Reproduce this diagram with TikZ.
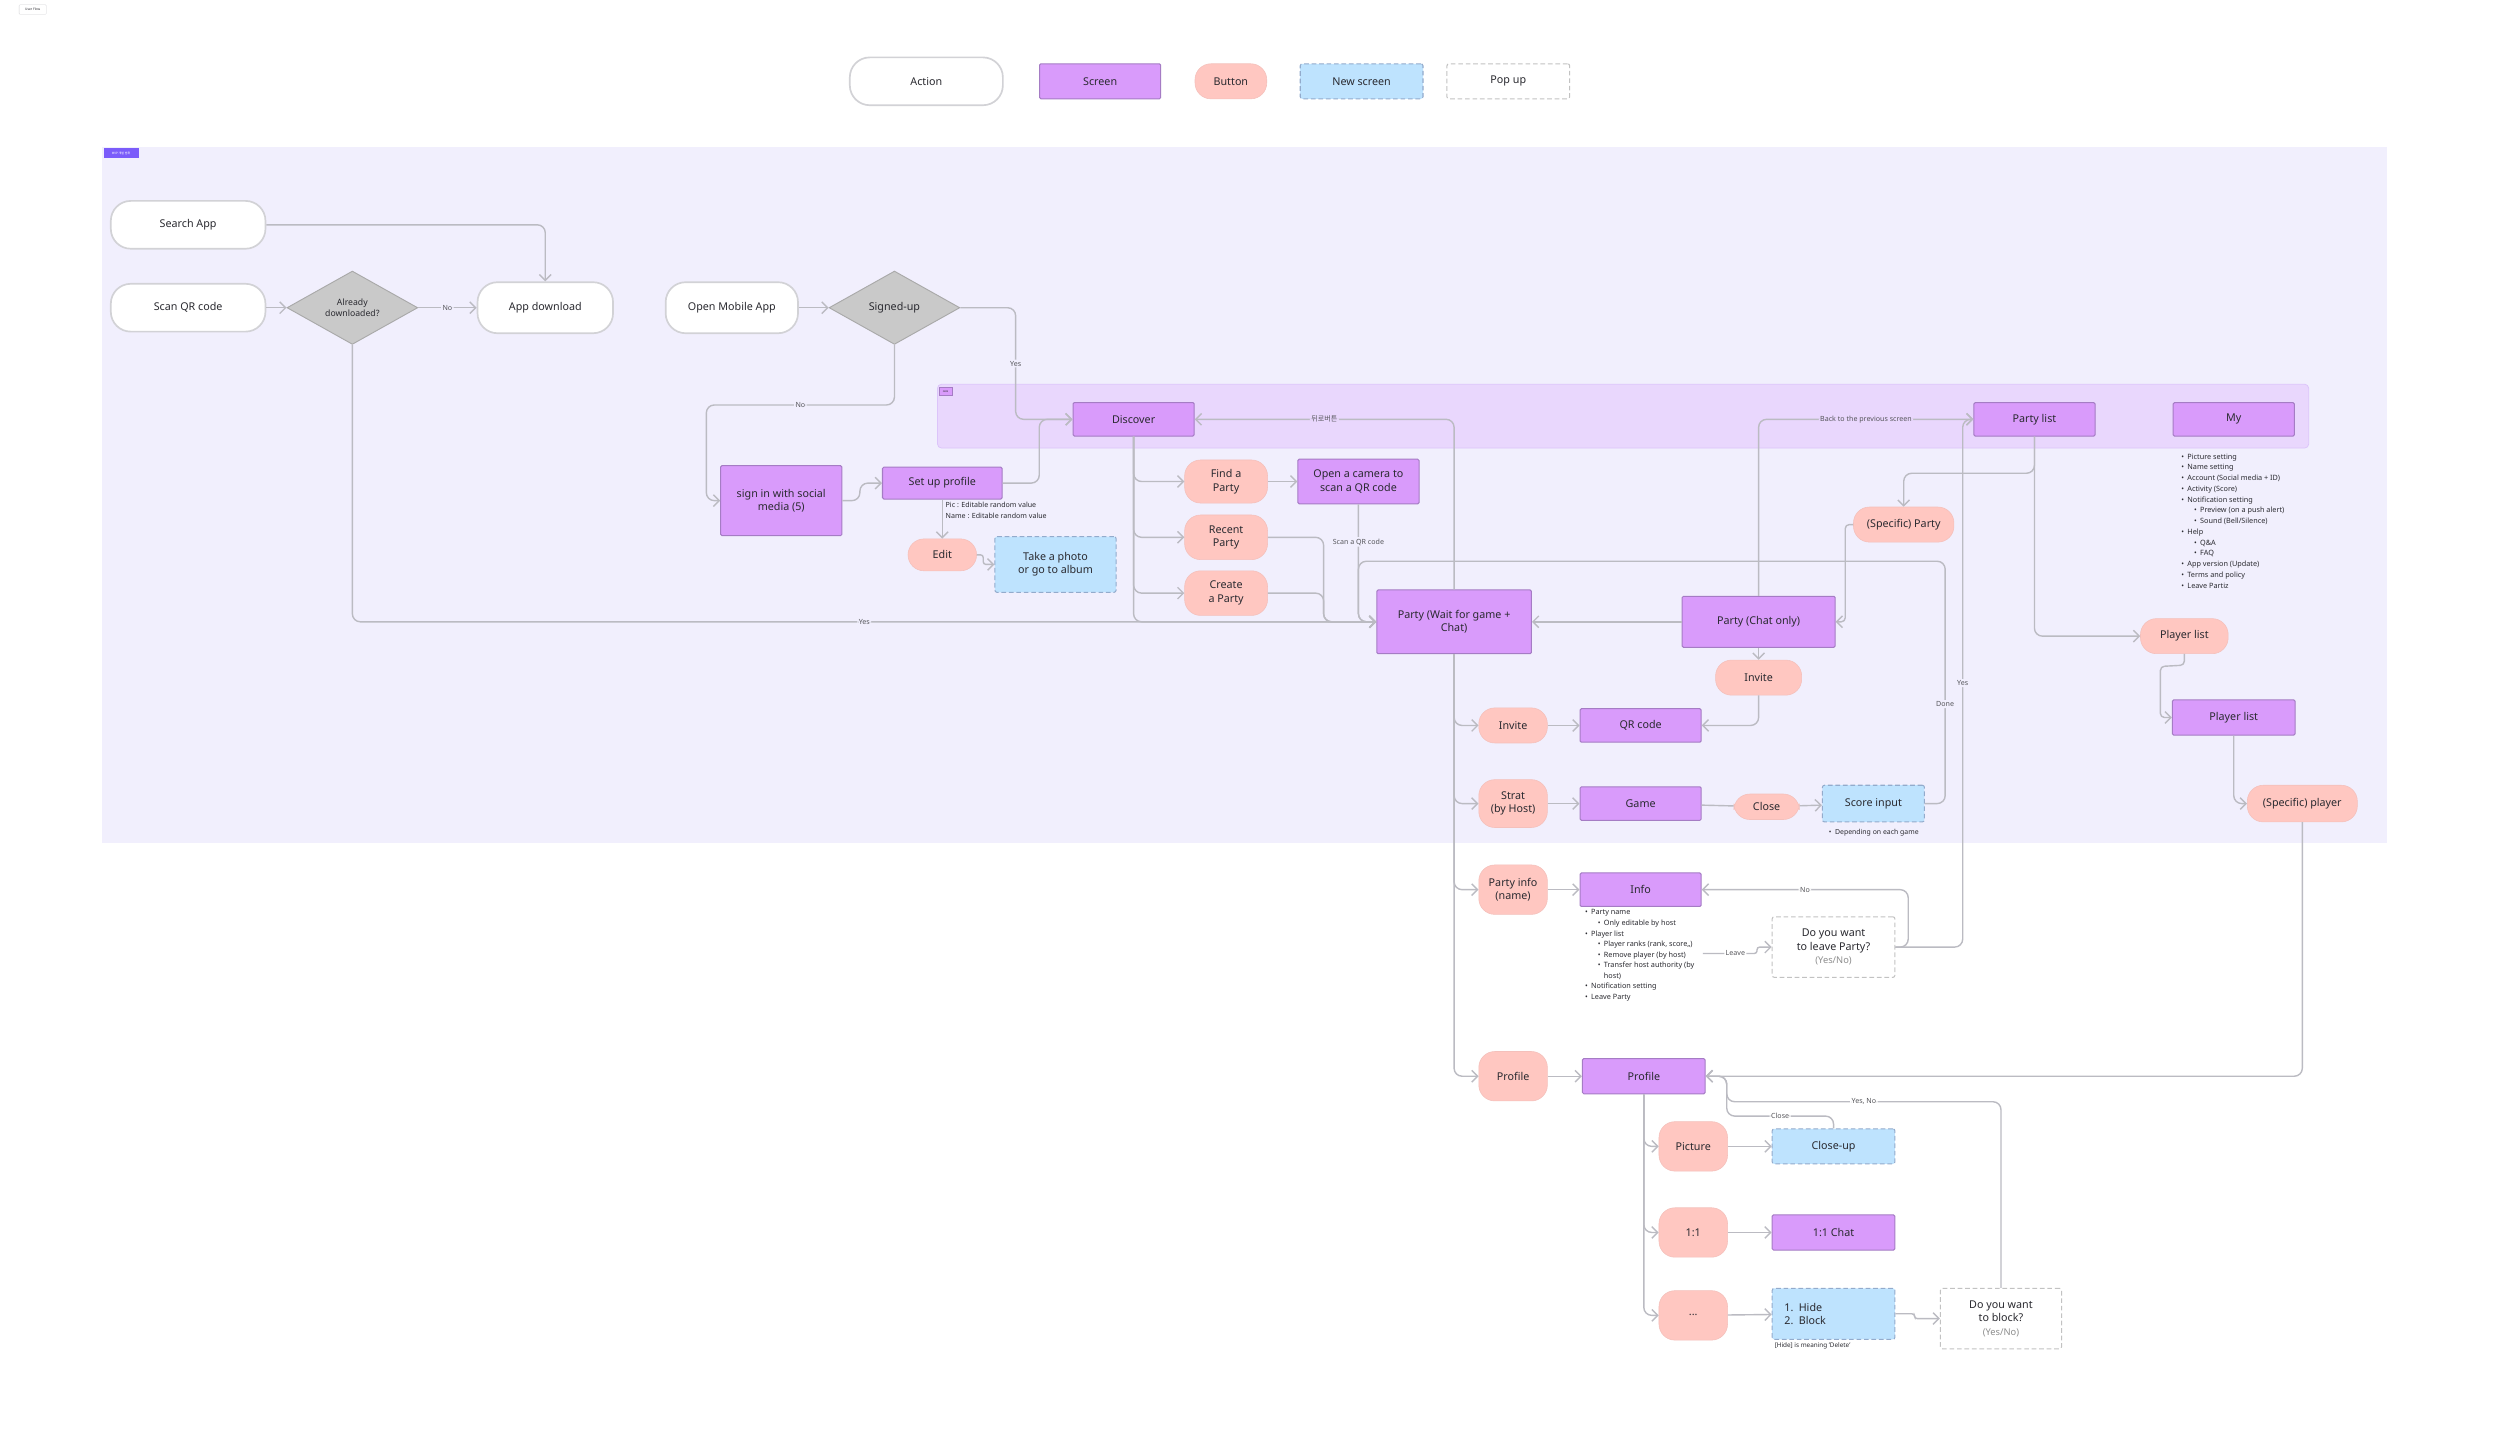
\documentclass[tikz,border=0pt]{standalone}
\usepackage{fontspec}
\setmainfont{Noto Sans}
\newfontfamily\krfont{Noto Sans CJK KR}
\usetikzlibrary{shapes.geometric,arrows.meta}

\definecolor{mvpbg}{HTML}{F1EFFD}
\definecolor{gnbbg}{HTML}{E9D7FD}
\definecolor{gnbline}{HTML}{DCC4FA}
\definecolor{scrfill}{HTML}{D99BFB}
\definecolor{scrline}{HTML}{A57CC4}
\definecolor{btnfill}{HTML}{FFC7C1}
\definecolor{btnline}{HTML}{F4C0BB}
\definecolor{newfill}{HTML}{BEE3FE}
\definecolor{nsline}{HTML}{93ABCC}
\definecolor{popline}{HTML}{C2C2C2}
\definecolor{actline}{HTML}{D2D2D6}
\definecolor{decfill}{HTML}{C9C9C9}
\definecolor{decline}{HTML}{A9A9A9}
\definecolor{wire}{HTML}{BBBBC2}
\definecolor{ink}{HTML}{2A2A30}
\definecolor{subtxt}{HTML}{8C8C8C}
\definecolor{tagfill}{HTML}{7B5CFA}

\newcommand{\bl}{\makebox[2.3mm][l]{•}}

\begin{document}
\begin{tikzpicture}[x=0.6mm, y=-0.6mm,
	sz/.style 2 args={minimum width=#1*0.6mm, minimum height=#2*0.6mm},
	base/.style={align=center, inner sep=0pt, text=ink, font=\fontsize{11.5}{14.5}\selectfont},
	bold/.style={font=\fontsize{11.5}{14.5}\selectfont\bfseries},
	action/.style={base, draw=actline, fill=white, line width=1.8pt, rounded corners=7.5mm, sz={97}{30}},
	screen/.style={base, draw=scrline, fill=scrfill, line width=1.1pt, rounded corners=0.5mm, sz={76}{21}},
	button/.style={base, draw=btnline, fill=btnfill, line width=0.6pt, rounded corners=6mm, sz={43}{22}},
	newscreen/.style={base, draw=nsline, fill=newfill, line width=1.1pt, dash pattern=on 5pt off 3pt, rounded corners=0.8mm, sz={77}{22}},
	popup/.style={base, draw=popline, fill=white, line width=1.1pt, dash pattern=on 5pt off 3pt, rounded corners=0.8mm, sz={77}{38}},
	decision/.style={base, diamond, aspect=1.75, draw=decline, fill=decfill, line width=1pt, sz={82}{46}},
	link/.style={draw=wire, line width=1.5pt, rounded corners=3mm, -{Straight Barb[length=2.2mm, width=4.4mm]}},
	flowlbl/.style={fill=#1, inner sep=1.5pt, text=ink!80, font=\fontsize{7.6}{9}\selectfont},
	flowlbl/.default=mvpbg,
	note/.style={align=left, inner sep=0pt, text=ink, font=\fontsize{7.8}{11.3}\selectfont}
]
	\fill[white] (-1,-1) rectangle (1567,897);
	\useasboundingbox (-1,-1) rectangle (1567,897);
	\fill[mvpbg] (63,91) rectangle (1496,528);
	\draw[gnbline, fill=gnbbg, line width=0.8pt, rounded corners=1.5mm] (587,240) rectangle (1447,280);

	% tags
	\node[draw=actline, line width=0.3pt, rounded corners=0.3mm, inner sep=0pt, text=ink, font=\fontsize{3.5}{4}\selectfont, sz={17}{6}] (title) at (19.5,5) {User Flow};
	\node[fill=tagfill, inner sep=0pt, text=white, font=\krfont\fontsize{3.2}{4}\selectfont, sz={22}{6}] (mvptag) at (75,95) {MVP 개발 범위};
	\node[fill=scrfill, draw=scrline, line width=0.2pt, inner sep=0pt, text=ink, font=\fontsize{2.6}{3}\selectfont, sz={8}{5}] (gnbtag) at (592,244.5) {GNB};

	% legend
	\node[action, sz={96}{30}] (lgaction) at (580,50) {Action};
	\node[screen, sz={76}{22}] (lgscreen) at (689,50) {Screen};
	\node[button, sz={45}{22}] (lgbutton) at (771,50) {Button};
	\node[newscreen] (lgnew) at (853,50) {New screen};
	\node[popup, sz={77}{22}] (lgpop) at (945,50) {Pop up};

	% entry
	\node[action] (search) at (117,140) {Search App};
	\node[action] (scanqr) at (117,192) {Scan QR code};
	\node[decision, font=\fontsize{9.3}{11.3}\selectfont] (downloaded) at (220,192) {Already\\downloaded?};
	\node[action, sz={85}{32}] (appdl) at (341,192) {App download};
	\node[action, sz={83}{32}] (openapp) at (458,192) {Open Mobile App};
	\node[decision] (signedup) at (560,192) {Signed-up};

	% gnb
	\node[screen, bold] (discover) at (710,262) {Discover};
	\node[screen, bold] (partylist) at (1275,262) {Party list};
	\node[screen, bold] (my) at (1400,262) {My};

	\node[screen, sz={76}{44}] (signin) at (489,313) {sign in with social\\media (5)};
	\node[screen, sz={75}{20}] (setup) at (590,302) {Set up profile};
	\node[button, sz={43}{20}] (edit) at (590,347) {Edit};
	\node[newscreen, sz={76}{35}] (photo) at (661,353) {Take a photo\\or go to album};
	\node[button, sz={52}{27}] (findp) at (768,301) {Find a\\Party};
	\node[button, sz={52}{28}] (recentp) at (768,336) {Recent\\Party};
	\node[button, sz={52}{28}] (createp) at (768,371) {Create\\a Party};
	\node[screen, sz={76}{28}] (camera) at (851,301) {Open a camera to\\scan a QR code};
	\node[screen, sz={97}{40}] (partywait) at (911,389) {Party (Wait for game +\\Chat)};
	\node[screen, sz={96}{32}] (partychat) at (1102,389) {Party (Chat only)};
	\node[button, sz={63}{22}] (specparty) at (1193,328) {(Specific) Party};
	\node[button, sz={54}{22}] (invitec) at (1102,424) {Invite};
	\node[button] (invitew) at (948,454) {Invite};
	\node[screen] (qrcode) at (1028,454) {QR code};
	\node[button, sz={43}{30}] (strat) at (948,503) {Strat\\(by Host)};
	\node[screen] (game) at (1028,503) {Game};
	\node[button, sz={41}{16}] (closeg) at (1107,505) {Close};
	\node[newscreen, sz={64}{23}] (score) at (1174,503) {Score input};
	\node[button, sz={43}{31}] (pinfo) at (948,557) {Party info\\(name)};
	\node[screen] (info) at (1028,557) {Info};
	\node[popup] (leave) at (1149,593) {Do you want\\to leave Party?\\{\fontsize{10}{12}\selectfont\color{subtxt}(Yes/No)}};
	\node[button, sz={43}{31}] (profb) at (948,674) {Profile};
	\node[screen, sz={77}{22}] (profs) at (1030,674) {Profile};
	\node[button, sz={43}{31}] (picture) at (1061,718) {Picture};
	\node[newscreen] (closeup) at (1149,718) {Close-up};
	\node[button, sz={43}{31}] (oneone) at (1061,772) {1:1};
	\node[screen, sz={77}{22}] (chat) at (1149,772) {1:1 Chat};
	\node[button, sz={43}{31}] (more) at (1061,824) {\textbf{...}};
	\node[newscreen, sz={77}{32}, text width=37mm, align=left] (hideblk) at (1149,823) {1. Hide\\2. Block};
	\node[popup, sz={76}{38}] (block) at (1254,826) {Do you want\\to block?\\{\fontsize{10}{12}\selectfont\color{subtxt}(Yes/No)}};
	\node[button, sz={55}{22}] (playerb) at (1369,398) {Player list};
	\node[screen, sz={77}{22}] (players) at (1400,449) {Player list};
	\node[button, sz={69}{23}] (specplayer) at (1443,503) {(Specific) player};

	% notes
	\node[note, anchor=north west, font=\fontsize{7.6}{12}\selectfont] (pnote) at (592,313.5) {Pic : Editable random value\\Name : Editable random value};
	\node[note, anchor=north west, font=\fontsize{7.8}{11.5}\selectfont] (mynote) at (1367,283.5) {\bl Picture setting\\\bl Name setting\\\bl Account (Social media + ID)\\\bl Activity (Score)\\\bl Notification setting\\\hspace*{4.8mm}\bl Preview (on a push alert)\\\hspace*{4.8mm}\bl Sound (Bell/Silence)\\\bl Help\\\hspace*{4.8mm}\bl Q\&A\\\hspace*{4.8mm}\bl FAQ\\\bl App version (Update)\\\bl Terms and policy\\\bl Leave Partiz};
	\node[note, anchor=north west] (infonote) at (993,569.5) {\bl Party name\\\hspace*{4.8mm}\bl Only editable by host\\\bl Player list\\\hspace*{4.8mm}\bl Player ranks (rank, score,,)\\\hspace*{4.8mm}\bl Remove player (by host)\\\hspace*{4.8mm}\bl Transfer host authority (by\\\hspace*{7.1mm}host)\\\bl Notification setting\\\bl Leave Party};
	\node[note, anchor=west, font=\fontsize{7.4}{9}\selectfont] (scorenote) at (1146,521) {\bl Depending on each game};
	\node[note, anchor=west, font=\fontsize{6.8}{8}\selectfont] (hidenote) at (1112,843) {[Hide] is meaning 'Delete'};

	% connectors
	\draw[link] (search.east) -| (appdl.north);
	\draw[link] (scanqr) -- (downloaded);
	\draw[link] (downloaded) -- node[flowlbl]{No} (appdl);
	\draw[link] (openapp) -- (signedup);
	\draw[link] (signedup.east) -- (636,192) -- node[flowlbl]{Yes} (636,262) -- (discover.west);
	\draw[link] (signedup.south) -- (560,253) -- node[flowlbl]{No} (442,253) -- (442,313) -- (signin.west);
	\draw[link] (downloaded.south) |- node[flowlbl, pos=0.75]{Yes} (partywait.west);
	\draw[link] (signin.east) -- ++(11,0) |- (setup.west);
	\draw[link] (setup.east) -- ++(23,0) |- (discover.west);
	\draw[link] (setup.south) -- (edit.north);
	\draw[link, rounded corners=1mm] (edit.east) -- ++(4,0) |- (photo.west);
	\foreach \nd in {findp, recentp, createp, partywait} \draw[link] (discover.south) |- (\nd.west);
	\draw[link] (findp) -- (camera);
	\draw[link] (camera.south) |- node[flowlbl, pos=0.16]{Scan a QR code} (partywait.west);
	\foreach \nd in {recentp, createp} \draw[link] (\nd.east) -- ++(35,0) |- (partywait.west);
	\draw[link] (partywait.north) |- node[flowlbl=gnbbg, pos=0.75]{\krfont 뒤로버튼} (discover.east);
	\draw[link] (partychat) -- (partywait);
	\draw[link] (partychat.north) |- node[flowlbl=gnbbg, pos=0.75]{Back to the previous screen} (partylist.west);
	\draw[link] (partychat.south) -- (invitec.north);
	\draw[link] (partylist.south) -- ++(0,23) -| (specparty.north);
	\draw[link] (partylist.south) |- (playerb.west);
	\draw[link, rounded corners=1.5mm] (specparty.west) -- ++(-5,0) |- (partychat.east);
	\draw[link] (invitec.south) |- (qrcode.east);
	\foreach \nd in {invitew, strat, pinfo, profb} \draw[link] (partywait.south) |- (\nd.west);
	\draw[link] (invitew) -- (qrcode);
	\draw[link] (strat) -- (game);
	\draw[link, -] (game) -- (closeg);
	\draw[link] (closeg) -- (score);
	\draw[link] (score.east) -- (1219,503) -- node[flowlbl, pos=0.41]{Done} (1219,351) -- (851,351) |- (partywait.west);
	\draw[link] (pinfo) -- (info);
	\coordinate (leavefrom) at (1067,597);
	\draw[link, rounded corners=1mm] (leavefrom) -- node[flowlbl=white, pos=0.6]{Leave} ++(34,0) |- (leave.west);
	\draw[link] (leave.east) -- ++(8,0) |- node[flowlbl=white, pos=0.75]{No} (info.east);
	\draw[link] (leave.east) -- (1230,593) -- node[flowlbl, pos=0.5]{Yes} (1230,262) -- (partylist.west);
	\draw[link] (profb) -- (profs);
	\draw[link] (specplayer.south) |- (profs.east);
	\foreach \nd in {picture, oneone, more} \draw[link] (profs.south) |- (\nd.west);
	\draw[link] (picture) -- (closeup);
	\draw[link] (oneone) -- (chat);
	\draw[link] (more) -- (hideblk);
	\draw[link, rounded corners=1mm] (hideblk.east) -- ++(12,0) |- (block.west);
	\draw[link] (closeup.north) -- (1149,699) -- node[flowlbl=white]{Close} (1082,699) |- (profs.east);
	\draw[link] (block.north) -- (1254,690) -- node[flowlbl=white]{Yes, No} (1082,690) |- (profs.east);
	\draw[link, rounded corners=1.5mm] (playerb.south) -- ++(0,7) -- (1354,417) |- (players.west);
	\draw[link] (players.south) |- (specplayer.west);
\end{tikzpicture}
\end{document}
